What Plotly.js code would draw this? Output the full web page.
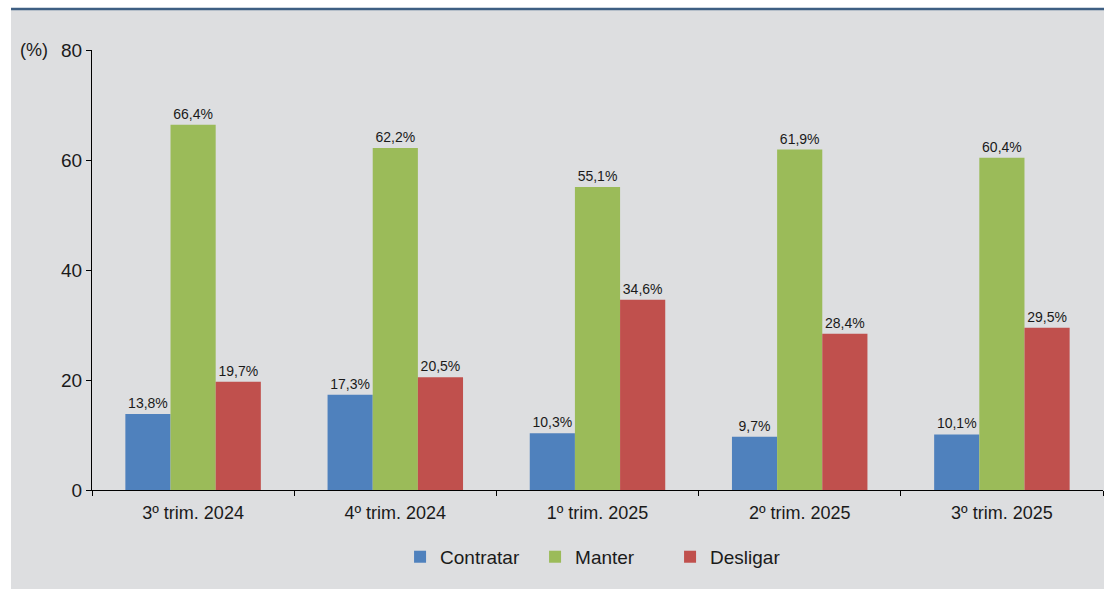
<!DOCTYPE html>
<html>
<head>
<meta charset="utf-8">
<script src="https://cdn.plot.ly/plotly-3.0.1.min.js"></script>
<style>html,body{margin:0;padding:0;background:#fff;}#chart{width:1104px;height:589px;}</style>
</head>
<body>
<div id="chart"></div>
<script>
const categories = ["3º trim. 2024", "4º trim. 2024", "1º trim. 2025", "2º trim. 2025", "3º trim. 2025"];
const contratar = [13.8, 17.3, 10.3, 9.7, 10.1];
const manter = [66.4, 62.2, 55.1, 61.9, 60.4];
const desligar = [19.7, 20.5, 34.6, 28.4, 29.5];
const seriesNames = ["Contratar", "Manter", "Desligar"];
const colors = ["#4f81bd", "#9bbb59", "#c0504d"];

const FONT = "'Liberation Sans', Arial, sans-serif";

const traces = [contratar, manter, desligar].map((vals, i) => ({
  type: "bar",
  name: seriesNames[i],
  x: categories,
  y: vals,
  marker: { color: colors[i], line: { width: 0 } },
  texttemplate: "%{y:.1f}%",
  textposition: "outside",
  cliponaxis: false,
  textfont: { family: FONT, size: 14, color: "#1a1a1a" },
  hoverinfo: "skip"
}));

const layout = {
  width: 1104,
  height: 589,
  separators: ",.",
  margin: { l: 92, r: 1, t: 50, b: 99 },
  paper_bgcolor: "#ffffff",
  plot_bgcolor: "rgba(0,0,0,0)",
  font: { family: FONT, size: 18, color: "#1a1a1a" },
  barmode: "group",
  bargap: 0.33,
  bargroupgap: 0,
  showlegend: true,
  legend: {
    orientation: "h",
    x: 0.505, xanchor: "center",
    y: -0.152, yanchor: "middle",
    font: { family: FONT, size: 19, color: "#1a1a1a" },
    bgcolor: "rgba(0,0,0,0)",
    itemwidth: 30,
    entrywidth: 90
  },
  xaxis: {
    type: "category",
    showline: true, linecolor: "#000", linewidth: 1,
    ticks: "outside", tickson: "boundaries", ticklen: 5, tickcolor: "#000",
    ticklabelstandoff: 6,
    tickfont: { family: FONT, size: 18, color: "#1a1a1a" },
    showgrid: false, zeroline: false
  },
  yaxis: {
    range: [0, 80], dtick: 20,
    showline: true, linecolor: "#000", linewidth: 1,
    ticks: "outside", ticklen: 5, tickcolor: "#000",
    tickfont: { family: FONT, size: 19, color: "#1a1a1a" },
    showgrid: false, zeroline: false
  },
  shapes: [
    { type: "rect", xref: "paper", yref: "paper", x0: -0.0801, x1: 1.01, y0: -0.225, y1: 1.0909,
      fillcolor: "#dddee0", line: { width: 0 }, layer: "below" },
    { type: "line", xref: "paper", yref: "paper", x0: -0.0801, x1: 1.01, y0: 1.0932, y1: 1.0932,
      line: { color: "#3e5f83", width: 2.5 }, layer: "below" }
  ],
  annotations: [
    { text: "(%)", xref: "paper", yref: "paper", x: -0.0415, y: 1, xanchor: "right", yanchor: "middle",
      showarrow: false, font: { family: FONT, size: 18, color: "#1a1a1a" } }
  ]
};

Plotly.newPlot("chart", traces, layout, { staticPlot: true });
</script>
</body>
</html>
